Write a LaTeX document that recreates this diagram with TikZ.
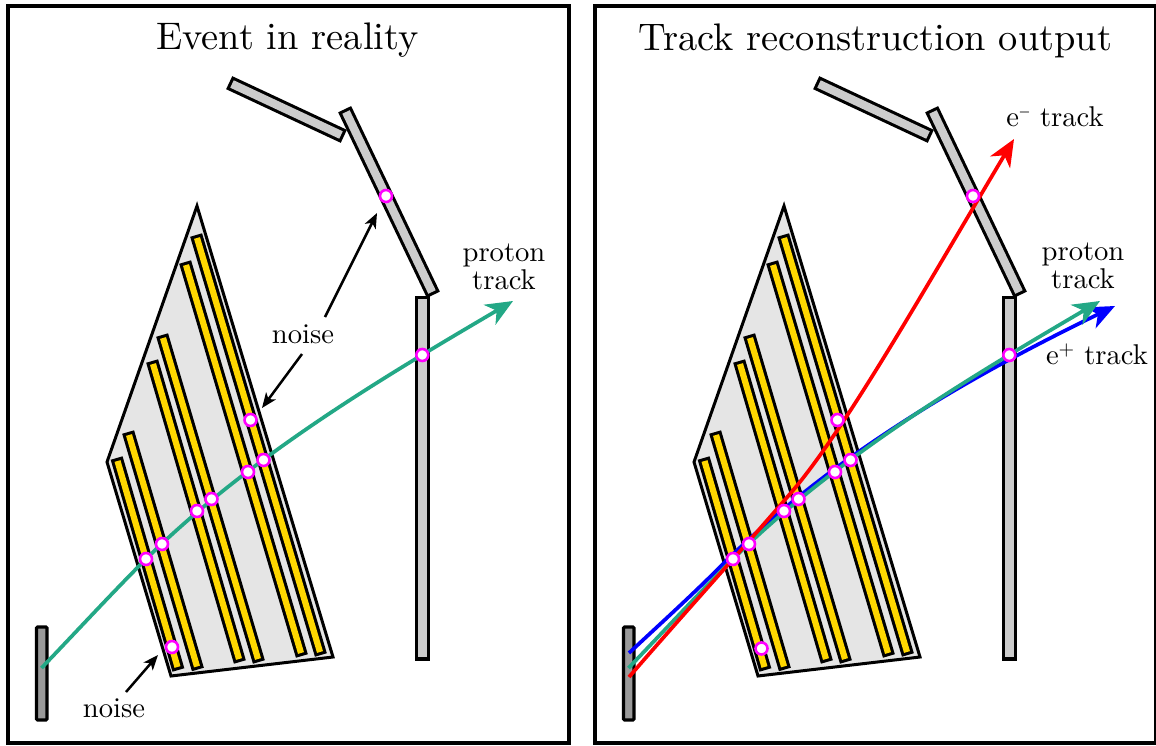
\documentclass[tikz,border=0pt]{standalone}
\usepackage{fontspec}
\setmainfont{lmroman10-regular}[Extension=.otf]
\usetikzlibrary{arrows.meta,calc}
\definecolor{trackgreen}{RGB}{35,168,134}
\definecolor{hitmag}{RGB}{255,0,255}
\definecolor{stripgold}{RGB}{255,215,0}
\tikzset{
  x=1pt,y=-1pt,
  frame/.style={draw=black,line width=3.2pt,fill=white},
  modulebody/.style={draw=black,line width=3pt,line join=miter,fill=black!10},
  stripedge/.style={draw=black,line width=12.4pt,shorten <=-3.1pt,shorten >=-3.1pt},
  stripcore/.style={draw=stripgold,line width=6.2pt},
  trackeredge/.style={draw=black,line width=14.4pt,shorten <=-3.1pt,shorten >=-3.1pt},
  trackercore/.style={draw=black!20,line width=8.2pt},
  trackerbox/.style={draw=black,line width=3.1pt,line join=miter,fill=black!20},
  vetobox/.style={draw=black,line width=3.1pt,rounded corners=1pt,fill=black!40},
  hitmark/.style={circle,draw=hitmag,fill=white,line width=2.6pt,minimum size=12pt,inner sep=0pt},
  track/.style={line width=3.7pt,line cap=butt},
  bigtip/.style={-{Stealth[length=27pt,width=23pt,inset=8pt]}},
  noisearrow/.style={draw=black,line width=2.5pt,-{Stealth[length=15pt,width=12pt,inset=4pt]}},
  label/.style={font=\fontsize{28.6}{28.5}\selectfont,text=black,align=center,inner sep=0pt},
  heading/.style={font=\fontsize{38.4}{42}\selectfont,text=black,inner sep=0pt},
}
% bar between two end points: black edge line with a narrower core on top
\newcommand{\slab}[3]{%
  \draw[#3edge] (#1) -- (#2);\draw[#3core] (#1) -- (#2);}
\newcommand{\detector}{%
  \coordinate (b1) at (197,206);\coordinate (b2) at (107,462);\coordinate (b3) at (171,676);\coordinate (b4) at (333,657);
  \draw[modulebody] (b1) -- (b2) -- (b3) -- (b4) -- cycle;
  \slab{117.5,461}{177.5,667}{strip}
  \slab{129,435}{197,666.5}{strip}
  \slab{153,364}{239,659}{strip}
  \slab{163,338}{258,659}{strip}
  \slab{186,265}{301,653}{strip}
  \slab{197,238}{320,652}{strip}
  \slab{232,84}{341,135}{tracker}
  \slab{346,112}{432,292}{tracker}
  \draw[trackerbox] (416.7,297.5) rectangle (428.3,659);
  \draw[vetobox] (36.5,627) rectangle (47,720);
  \coordinate (c1) at (386,196);\coordinate (c2) at (422.3,355);\coordinate (c3) at (250.5,420);
  \coordinate (c4) at (263.5,460);\coordinate (c5) at (248,472);\coordinate (c6) at (211.5,499);
  \coordinate (c7) at (197,511);\coordinate (c8) at (162,544);\coordinate (c9) at (146,559);
  \coordinate (c10) at (172,647);
}
\newcommand{\hitmarks}{%
  \foreach \n in {1,...,10}{\node[hitmark] (hit\n) at (c\n) {};}
}
\newcommand{\greentrack}{%
  \coordinate (gs) at (41.5,668);\coordinate (ge) at (513,301);
  \draw[track,trackgreen,bigtip] (gs) .. controls (76,632) and (112,593) .. (c9) .. controls (252.5,454) and (389,374) .. (ge);
}
\begin{document}
\begin{tikzpicture}
\useasboundingbox (0,0) rectangle (1156,745);
% left panel
\begin{scope}[name prefix=L-]
  \draw[frame] (8,6) rectangle (569,743);
  \detector
  \greentrack
  \hitmarks
  \node[heading] (title) at (287.5,40.5) {Event in reality};
  \node[label] (n1) at (303,334) {noise};
  \node[label] (n2) at (114,708) {noise};
  \node[label] (pt) at (504,267) {proton\\track};
  \coordinate (a1) at (377,213);\coordinate (a2) at (262,408);\coordinate (a3) at (158,655);
  \draw[noisearrow] (n1) ++(22,-17) -- (a1);
  \draw[noisearrow] (n1) ++(-1,20) -- (a2);
  \draw[noisearrow] (n2) ++(12,-16) -- (a3);
\end{scope}
% right panel
\begin{scope}[name prefix=R-,xshift=587pt]
  \draw[frame] (8,6) rectangle (569,743);
  \detector
  \coordinate (c10) at (174.5,648.5);
  \coordinate (bs) at (42,653);\coordinate (bm) at (133,567);\coordinate (be) at (528,306);
  \draw[track,blue,bigtip] (bs) .. controls (72,625) and (103,597) .. (bm) .. controls (246,454) and (384.7,375.7) .. (be);
  \greentrack
  \coordinate (rs) at (42,677);\coordinate (rm) at (208,488);\coordinate (re) at (427,139);
  \draw[track,red,bigtip] (rs) .. controls (100,610) and (170,533) .. (rm) .. controls (262,423) and (340,285) .. (re);
  \hitmarks
  \node[heading] (title) at (288.5,40.5) {Track reconstruction output};
  \node[label] (em) at (468,117) {e\textsuperscript{\scalebox{0.7}[1]{−}} track};
  \node[label] (ep) at (510,354) {e\textsuperscript{+} track};
  \node[label] (pt) at (496,266) {proton\\track};
\end{scope}
\end{tikzpicture}
\end{document}
